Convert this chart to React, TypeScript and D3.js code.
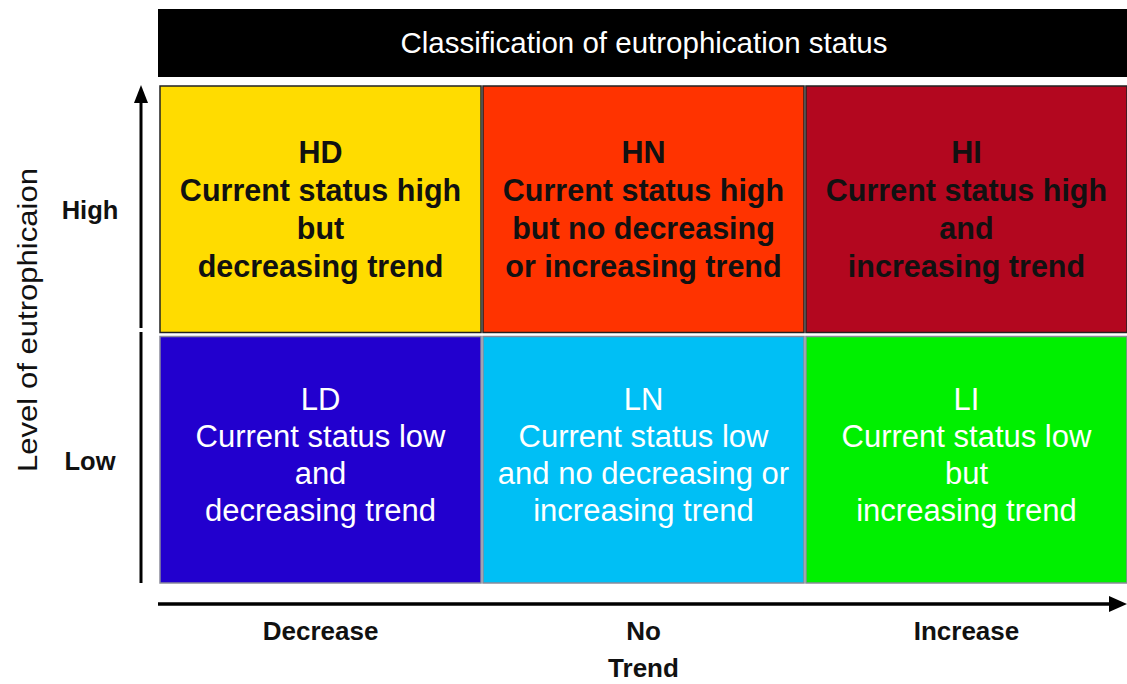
import React from "react";
import * as d3 from "d3";

const trends = ["Decrease", "No", "Increase"];
const levels = ["High", "Low"];
const codes = [
  ["HD", "HN", "HI"],
  ["LD", "LN", "LI"],
];
const descriptions = [
  [
    ["Current status high", "but", "decreasing trend"],
    ["Current status high", "but no decreasing", "or increasing trend"],
    ["Current status high", "and", "increasing trend"],
  ],
  [
    ["Current status low", "and", "decreasing trend"],
    ["Current status low", "and no decreasing or", "increasing trend"],
    ["Current status low", "but", "increasing trend"],
  ],
];
const cellColors = [
  ["#FFDC00", "#FF3300", "#B3071F"],
  ["#2200CE", "#00BFF5", "#00F000"],
];
const title = "Classification of eutrophication status";
const yTitle = "Level of eutrophicaion";
const xTitle = "Trend";

const W = 1127;
const H = 684;
const FONT = "'Liberation Sans', Arial, sans-serif";

export default function App() {
  const x = d3.scaleBand<string>().domain(trends).range([160, 1127]).paddingInner(0.006);
  const y = d3.scaleBand<string>().domain(levels).range([86, 583]).paddingInner(0.016);

  return (
    <svg width={W} height={H} style={{ position: "absolute", left: 0, top: 0, background: "#fff" }} fontFamily={FONT}>
      {/* header */}
      <rect x={158} y={9} width={W - 158} height={68} fill="#000" />
      <text x={644} y={53} textAnchor="middle" fill="#fff" fontSize={29.5}>
        {title}
      </text>

      {/* cells */}
      {levels.map((lv, ri) =>
        trends.map((tr, ci) => {
          const cx = (x(tr) as number) + x.bandwidth() / 2;
          const cy = (y(lv) as number) + y.bandwidth() / 2;
          const lines = [codes[ri][ci], ...descriptions[ri][ci]];
          const top = ri === 0;
          const first = top ? cy - 46 : cy - 50;
          const step = top ? 38 : 37;
          return (
            <g key={lv + tr}>
              <rect
                x={x(tr)}
                y={y(lv)}
                width={x.bandwidth()}
                height={y.bandwidth()}
                fill={cellColors[ri][ci]}
                stroke={top ? "#222" : "#8a8a9a"}
                strokeWidth={1.5}
              />
              {lines.map((t, li) => (
                <text
                  key={li}
                  x={cx}
                  y={first + li * step}
                  textAnchor="middle"
                  fontSize={top ? 30.5 : 31}
                  fontWeight={top ? "bold" : "normal"}
                  fill={top ? "#111" : "#fff"}
                >
                  {t}
                </text>
              ))}
            </g>
          );
        })
      )}

      {/* vertical axis arrow */}
      <line x1={141} y1={583} x2={141} y2={332} stroke="#000" strokeWidth={3} />
      <line x1={141} y1={328} x2={141} y2={100} stroke="#000" strokeWidth={3} />
      <path d="M141,85 L134,103 L148,103 Z" fill="#000" />
      {levels.map((lv) => (
        <text key={lv} x={90} y={(y(lv) as number) + y.bandwidth() / 2 + 10} textAnchor="middle" fontSize={25.5} fontWeight="bold" fill="#111">
          {lv}
        </text>
      ))}
      <text
        transform={`translate(37,320) rotate(-90)`}
        textAnchor="middle"
        fontSize={28}
        textLength={304}
        lengthAdjust="spacingAndGlyphs"
        fill="#111"
      >
        {yTitle}
      </text>

      {/* horizontal axis arrow */}
      {trends.map((tr, i) => {
        const x0 = (x(tr) as number) - 2;
        const x1 = (x(tr) as number) + x.bandwidth();
        return (
          <line key={tr} x1={x0} y1={604} x2={i === 2 ? W - 16 : x1} y2={604} stroke="#000" strokeWidth={3.5} />
        );
      })}
      <path d={`M${W},604 L${W - 18},596 L${W - 18},612 Z`} fill="#000" />
      {trends.map((tr) => (
        <text key={tr} x={(x(tr) as number) + x.bandwidth() / 2} y={640} textAnchor="middle" fontSize={26} fontWeight="bold" fill="#111">
          {tr}
        </text>
      ))}
      <text x={(x("No") as number) + x.bandwidth() / 2} y={677} textAnchor="middle" fontSize={26} fontWeight="bold" fill="#111">
        {xTitle}
      </text>
    </svg>
  );
}
